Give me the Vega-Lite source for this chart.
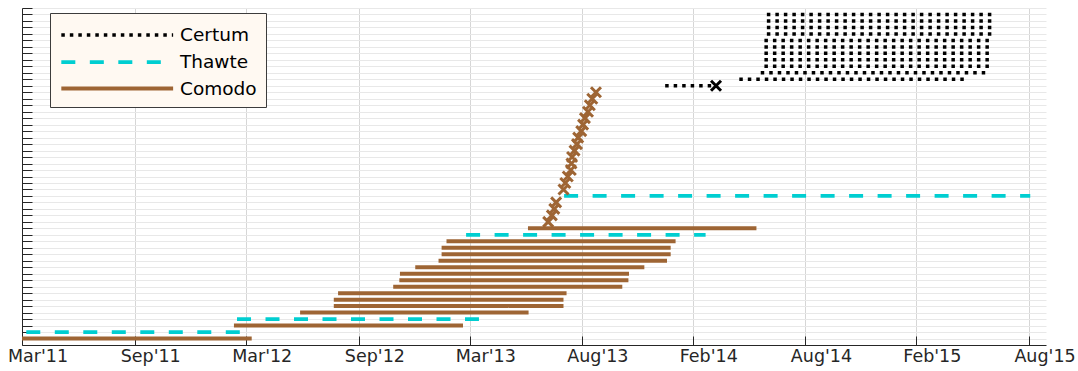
{
  "$schema": "https://vega.github.io/schema/vega-lite/v6.json",
  "width": 1024,
  "height": 337,
  "autosize": {"type": "none"},
  "padding": {"left": 22, "top": 8, "right": 32, "bottom": 26},
  "background": "white",
  "config": {"view": {"stroke": null}, "font": "DejaVu Sans"},
  "data": {"values": [
    {"r": 0, "c": "Comodo", "s": "2011-03-01", "e": "2012-03-10", "rv": false},
    {"r": 1, "c": "Thawte", "s": "2011-03-08", "e": "2012-02-21", "rv": false},
    {"r": 2, "c": "Comodo", "s": "2012-02-10", "e": "2013-02-18", "rv": false},
    {"r": 3, "c": "Thawte", "s": "2012-02-15", "e": "2013-03-16", "rv": false},
    {"r": 4, "c": "Comodo", "s": "2012-05-28", "e": "2013-06-05", "rv": false},
    {"r": 5, "c": "Comodo", "s": "2012-07-22", "e": "2013-08-01", "rv": false},
    {"r": 6, "c": "Comodo", "s": "2012-07-22", "e": "2013-08-01", "rv": false},
    {"r": 7, "c": "Comodo", "s": "2012-07-29", "e": "2013-08-06", "rv": false},
    {"r": 8, "c": "Comodo", "s": "2012-10-27", "e": "2013-11-05", "rv": false},
    {"r": 9, "c": "Comodo", "s": "2012-11-06", "e": "2013-11-15", "rv": false},
    {"r": 10, "c": "Comodo", "s": "2012-11-07", "e": "2013-11-16", "rv": false},
    {"r": 11, "c": "Comodo", "s": "2012-12-02", "e": "2013-12-11", "rv": false},
    {"r": 12, "c": "Comodo", "s": "2013-01-09", "e": "2014-01-17", "rv": false},
    {"r": 13, "c": "Comodo", "s": "2013-01-14", "e": "2014-01-23", "rv": false},
    {"r": 14, "c": "Comodo", "s": "2013-01-14", "e": "2014-01-23", "rv": false},
    {"r": 15, "c": "Comodo", "s": "2013-01-22", "e": "2014-01-31", "rv": false},
    {"r": 16, "c": "Thawte", "s": "2013-02-23", "e": "2014-03-21", "rv": false},
    {"r": 17, "c": "Comodo", "s": "2013-06-04", "e": "2014-06-12", "rv": false},
    {"r": 18, "c": "Comodo", "s": "2013-07-07", "e": "2013-07-07", "rv": true},
    {"r": 19, "c": "Comodo", "s": "2013-07-13", "e": "2013-07-13", "rv": true},
    {"r": 20, "c": "Comodo", "s": "2013-07-17", "e": "2013-07-17", "rv": true},
    {"r": 21, "c": "Comodo", "s": "2013-07-20", "e": "2013-07-20", "rv": true},
    {"r": 22, "c": "Thawte", "s": "2013-08-02", "e": "2015-09-02", "rv": false},
    {"r": 23, "c": "Comodo", "s": "2013-08-01", "e": "2013-08-01", "rv": true},
    {"r": 24, "c": "Comodo", "s": "2013-08-04", "e": "2013-08-04", "rv": true},
    {"r": 25, "c": "Comodo", "s": "2013-08-08", "e": "2013-08-08", "rv": true},
    {"r": 26, "c": "Comodo", "s": "2013-08-13", "e": "2013-08-13", "rv": true},
    {"r": 27, "c": "Comodo", "s": "2013-08-14", "e": "2013-08-14", "rv": true},
    {"r": 28, "c": "Comodo", "s": "2013-08-15", "e": "2013-08-15", "rv": true},
    {"r": 29, "c": "Comodo", "s": "2013-08-19", "e": "2013-08-19", "rv": true},
    {"r": 30, "c": "Comodo", "s": "2013-08-23", "e": "2013-08-23", "rv": true},
    {"r": 31, "c": "Comodo", "s": "2013-08-25", "e": "2013-08-25", "rv": true},
    {"r": 32, "c": "Comodo", "s": "2013-08-30", "e": "2013-08-30", "rv": true},
    {"r": 33, "c": "Comodo", "s": "2013-09-02", "e": "2013-09-02", "rv": true},
    {"r": 34, "c": "Comodo", "s": "2013-09-05", "e": "2013-09-05", "rv": true},
    {"r": 35, "c": "Comodo", "s": "2013-09-10", "e": "2013-09-10", "rv": true},
    {"r": 36, "c": "Comodo", "s": "2013-09-13", "e": "2013-09-13", "rv": true},
    {"r": 37, "c": "Comodo", "s": "2013-09-17", "e": "2013-09-17", "rv": true},
    {"r": 38, "c": "Comodo", "s": "2013-09-23", "e": "2013-09-23", "rv": true},
    {"r": 39, "c": "Certum", "s": "2014-01-14", "e": "2014-04-07", "rv": true},
    {"r": 40, "c": "Certum", "s": "2014-05-15", "e": "2015-05-18", "rv": false},
    {"r": 41, "c": "Certum", "s": "2014-06-19", "e": "2015-06-21", "rv": false},
    {"r": 42, "c": "Certum", "s": "2014-06-25", "e": "2015-06-28", "rv": false},
    {"r": 43, "c": "Certum", "s": "2014-06-25", "e": "2015-06-28", "rv": false},
    {"r": 44, "c": "Certum", "s": "2014-06-25", "e": "2015-06-28", "rv": false},
    {"r": 45, "c": "Certum", "s": "2014-06-25", "e": "2015-06-28", "rv": false},
    {"r": 46, "c": "Certum", "s": "2014-06-25", "e": "2015-06-28", "rv": false},
    {"r": 47, "c": "Certum", "s": "2014-06-29", "e": "2015-07-01", "rv": false},
    {"r": 48, "c": "Certum", "s": "2014-06-29", "e": "2015-07-01", "rv": false},
    {"r": 49, "c": "Certum", "s": "2014-06-29", "e": "2015-07-01", "rv": false},
    {"r": 50, "c": "Certum", "s": "2014-06-29", "e": "2015-07-01", "rv": false}
  ]},
  "layer": [
    {
      "mark": {"type": "rule"},
      "encoding": {
        "x": {
          "field": "s", "type": "temporal",
          "scale": {"type": "utc", "domain": [{"year": 2011, "month": 3, "date": 1, "utc": true}, {"year": 2015, "month": 9, "date": 27, "hours": 17, "utc": true}]},
          "axis": {
            "title": null,
            "tickCount": 100,
            "values": [
              {"year": 2011, "month": 3, "date": 1, "utc": true},
              {"year": 2011, "month": 9, "date": 1, "utc": true},
              {"year": 2012, "month": 3, "date": 1, "utc": true},
              {"year": 2012, "month": 9, "date": 1, "utc": true},
              {"year": 2013, "month": 3, "date": 1, "utc": true},
              {"year": 2013, "month": 8, "date": 31, "utc": true},
              {"year": 2014, "month": 2, "date": 28, "utc": true},
              {"year": 2014, "month": 8, "date": 31, "utc": true},
              {"year": 2015, "month": 2, "date": 28, "utc": true},
              {"year": 2015, "month": 8, "date": 31, "utc": true}
            ],
            "labelExpr": "utcFormat(datum.value, \"%b'%y\")",
            "grid": true, "gridColor": "#d6d6d6", "gridWidth": 1,
            "tickSize": -9, "tickColor": "#262626", "domainColor": "#262626",
            "labelColor": "#262626", "labelFont": "DejaVu Sans", "labelFontSize": 17.5,
            "labelOffset": 15.5, "labelPadding": 11, "labelFlush": false, "labelOverlap": false
          }
        },
        "x2": {"field": "e"},
        "y": {
          "field": "r", "type": "quantitative",
          "scale": {"domain": [-1, 51], "nice": false, "zero": false},
          "axis": {
            "title": null, "labels": false,
            "tickCount": 100,
            "values": [0,1,2,3,4,5,6,7,8,9,10,11,12,13,14,15,16,17,18,19,20,21,22,23,24,25,26,27,28,29,30,31,32,33,34,35,36,37,38,39,40,41,42,43,44,45,46,47,48,49,50,51],
            "grid": true, "gridColor": "#e8e8e8", "gridWidth": 1,
            "tickSize": -10, "tickColor": "#262626", "domainColor": "#262626"
          }
        },
        "color": {
          "field": "c", "type": "nominal",
          "scale": {"domain": ["Certum", "Thawte", "Comodo"], "range": ["#000000", "#00ced1", "#9e6534"]},
          "legend": {
            "orient": "none", "legendX": 28, "legendY": 5, "title": null,
            "fillColor": "#fff9f2", "strokeColor": "#3c3c3c", "padding": 9,
            "symbolType": "M-1,0H9", "symbolSize": 500, "symbolStrokeWidth": 4,
            "labelFontSize": 18.5, "labelFont": "DejaVu Sans", "labelColor": "#000000",
            "labelOffset": 94, "rowPadding": 3.5, "labelLimit": 300,
            "encode": {"symbols": {"update": {"strokeDash": {"signal": "datum.value === 'Thawte' ? [18, 5] : datum.value === 'Certum' ? [4.5, 4.5] : [1, 0]"}}}}
          }
        },
        "strokeDash": {
          "field": "c", "type": "nominal",
          "scale": {"domain": ["Certum", "Thawte", "Comodo"], "range": [[3.5, 5], [14, 14.5], [1, 0]]}
        },
        "strokeWidth": {
          "field": "c", "type": "nominal",
          "scale": {"domain": ["Certum", "Thawte", "Comodo"], "range": [3.5, 4, 3]},
          "legend": null
        }
      }
    },
    {
      "transform": [{"filter": "datum.rv"}],
      "mark": {"type": "point", "shape": "M-1,-1L1,1M-1,1L1,-1", "size": 100, "strokeWidth": 3, "filled": false, "opacity": 1},
      "encoding": {
        "x": {"field": "e", "type": "temporal"},
        "y": {"field": "r", "type": "quantitative"},
        "color": {"condition": {"test": "datum.c === 'Certum'", "value": "#000000"}, "value": "#9e6534"}
      }
    }
  ]
}
